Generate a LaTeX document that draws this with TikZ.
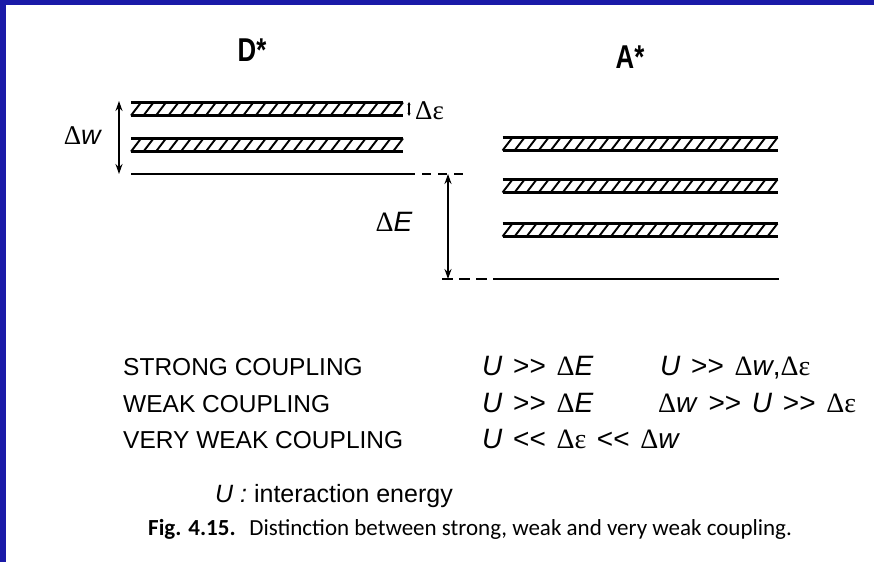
\documentclass[tikz,border=0pt]{standalone}
\usepackage{fontspec}
\usepackage{graphicx}
\setmainfont{Liberation Sans}
\newfontfamily\grk{Liberation Serif}
\newfontfamily\capfont{Carlito}
\usetikzlibrary{arrows.meta}
\definecolor{frameblue}{RGB}{26,26,168}
\newcommand\mydelta{{\grk Δ}}
\newcommand\myeps{{\grk ε}}
\newcommand\gsp{\hspace{0.38em}}
\tikzset{
 pics/hbar/.style 2 args={code={
    \node[inner sep=0pt, outer sep=0pt, minimum width=#1pt, minimum height=14pt] (-box) {};
    \draw[line width=2.3pt] (-#1/2,-6.5) -- (#1/2,-6.5);
    \draw[line width=2.3pt] (-#1/2,6.5) -- (#1/2,6.5);
    \foreach \i in {0,...,#2}
      \draw[line width=1.9pt] ({-#1/2+\i*(#1-10)/#2},6.5) -- ++(10,-13);
  }},
 lvl/.style={line width=1.8pt},
 dim/.style={line width=1.7pt, {Stealth[length=10pt,width=7pt]}-{Stealth[length=10pt,width=7pt]}},
 lbl/.style={font=\fontsize{27}{30}\selectfont, inner sep=0pt},
 row/.style={font=\fontsize{24.5}{28}\selectfont, anchor=base west, inner sep=0pt},
 mrow/.style={font=\fontsize{28}{30}\selectfont, anchor=base west, inner sep=0pt},
 ttl/.style={font=\fontsize{33}{36}\selectfont\bfseries, anchor=base, inner sep=0pt},
}
\begin{document}
\begin{tikzpicture}[x=1pt,y=-1pt]
\useasboundingbox (0,0) rectangle (874,562);
\fill[frameblue] (0,0) rectangle (874,5);
\fill[frameblue] (0,0) rectangle (6,562);

% titles
\node[ttl] (dstar) at (252,61) {\scalebox{0.78}[1]{D*}};
\node[ttl] (astar) at (630,68) {\scalebox{0.78}[1]{A*}};

% donor levels
\pic (d1) at (267,109) {hbar={272}{21}};
\pic (d2) at (267,145) {hbar={272}{21}};
\coordinate (dl0) at (131,174);
\coordinate (dl1) at (415,174);
\coordinate (dl2) at (468,174);
\draw[lvl] (dl0) -- (dl1);
\draw[lvl, dash pattern=on 9pt off 7pt] (dl1) ++(7,0) -- (dl2);

% acceptor levels
\pic (a1) at (640,144) {hbar={275}{22}};
\pic (a2) at (640,186) {hbar={275}{22}};
\pic (a3) at (640,230) {hbar={275}{22}};
\coordinate (al0) at (442,279);
\coordinate (al1) at (493,279);
\coordinate (al2) at (779,279);
\draw[lvl, dash pattern=on 11pt off 6pt] (al0) -- (al1);
\draw[lvl] (al1) -- (al2);

% dimension arrows
\coordinate (wtop) at (119,101);
\coordinate (wbot) at (119,174);
\draw[dim] (wtop) -- (wbot);
\node[lbl] (dw) at (83,136) {\mydelta\textit{w}};

\coordinate (etop) at (448,174);
\coordinate (ebot) at (448,279);
\draw[dim] (etop) -- (ebot);
\node[lbl, font=\fontsize{28}{30}\selectfont] (dE) at (394,222) {\mydelta\textit{E}};

\coordinate (eptop) at (409,102);
\coordinate (epbot) at (409,116);
\draw[line width=1.3pt, {Stealth[length=3pt,width=3pt]}-{Stealth[length=3pt,width=3pt]}] (eptop) -- (epbot);
\node[lbl, anchor=west] (de) at (415,111) {\mydelta\myeps};

% table
\node[row] (r1a) at (123,375) {STRONG COUPLING};
\node[mrow] (r1b) at (482,375) {\textit{U}\gsp>{}>\gsp\mydelta\textit{E}};
\node[mrow] (r1c) at (660,375) {\textit{U}\gsp>{}>\gsp\mydelta\textit{w},\mydelta\myeps};
\node[row] (r2a) at (123,412) {WEAK COUPLING};
\node[mrow] (r2b) at (482,412) {\textit{U}\gsp>{}>\gsp\mydelta\textit{E}};
\node[mrow] (r2c) at (658,412) {\mydelta\textit{w}\gsp>{}>\gsp\textit{U}\gsp>{}>\gsp\mydelta\myeps};
\node[row] (r3a) at (123,448) {VERY WEAK COUPLING};
\node[mrow] (r3b) at (482,448) {\textit{U}\gsp<{}<\gsp\mydelta\myeps\gsp<{}<\gsp\mydelta\textit{w}};

\node[row, font=\fontsize{25}{28}\selectfont] (ulbl) at (215,502) {\textit{U :} interaction energy};
\node[anchor=base west, inner sep=0pt, font=\capfont\fontsize{23}{26}\selectfont] (cap) at (148,535)
  {\textbf{Fig. 4.15.}\hspace{0.6em}Distinction between strong, weak and very weak coupling.};
\end{tikzpicture}
\end{document}
